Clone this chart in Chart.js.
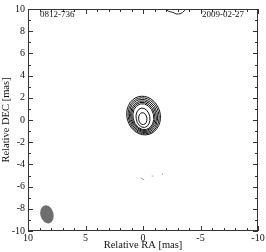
<!DOCTYPE html>
<html>
<head>
<meta charset="utf-8">
<script src="https://cdn.jsdelivr.net/npm/chart.js@4"></script>
<style>
    html, body { margin: 0; padding: 0; background: #fff; }
    #wrap { width: 266px; height: 252px; }
</style>
</head>
<body>
<div id="wrap"><canvas id="mapa" width="266" height="252"></canvas></div>
<script>
// Etiquetas de la imagen
const sourceName = '0812-736';
const epoch = '2009-02-27';

// Contornos del núcleo (mas): centro, semiejes y ángulo
const contourCx = [-0.05, -0.05, -0.04, -0.04, -0.03, -0.03, 0.00, 0.02];
const contourCy = [0.40, 0.38, 0.36, 0.34, 0.32, 0.30, 0.20, 0.12];
const contourRx = [1.45, 1.33, 1.22, 1.11, 1.00, 0.90, 0.60, 0.36];
const contourRy = [1.76, 1.64, 1.52, 1.40, 1.29, 1.18, 0.88, 0.54];
const contourAng = [-16, -16, -15, -15, -14, -13, -10, -6];

// Haz (beam) en la esquina
const beamCx = 8.35, beamCy = -8.5, beamRx = 0.57, beamRy = 0.83, beamAng = -15;

// Contorno parcial en el borde superior
const topContourX = [-1.9, -2.2, -2.6, -2.9, -3.3, -3.6, -3.75];
const topContourY = [10.05, 9.8, 9.7, 9.55, 9.6, 9.85, 10.05];

// Pequeños fragmentos de contorno
const speck1X = [0.2, 0.05, -0.1];
const speck1Y = [-5.2, -5.3, -5.4];
const speck2X = [-0.75, -0.9];
const speck2Y = [-5.05, -5.05];
const speck3X = [-1.7, -1.7];
const speck3Y = [-4.8, -4.95];

// Ticks
const xTicks = [10, 5, 0, -5, -10];
const yTicks = [-10, -8, -6, -4, -2, 0, 2, 4, 6, 8, 10];

const FONT = 'Liberation Serif';

function toPts(xs, ys) {
    return xs.map((x, i) => ({ x: x, y: ys[i] }));
}

function lineSet(xs, ys, color) {
    return {
        data: toPts(xs, ys),
        showLine: true,
        borderColor: color,
        borderWidth: 1,
        pointRadius: 0,
        tension: 0.3,
        fill: false
    };
}

// Plugin: elipses de contorno, beam, marco y ticks hacia dentro
const mapaPlugin = {
    id: 'mapa',
    afterDatasetsDraw(chart) {
        const ctx = chart.ctx;
        const xs = chart.scales.x, ys = chart.scales.y;
        const a = chart.chartArea;
        const ppx = Math.abs(xs.getPixelForValue(1) - xs.getPixelForValue(0));
        const ppy = Math.abs(ys.getPixelForValue(1) - ys.getPixelForValue(0));

        ctx.save();
        ctx.beginPath();
        ctx.rect(a.left, a.top, a.right - a.left, a.bottom - a.top);
        ctx.clip();

        // beam
        ctx.fillStyle = '#6e6e6e';
        ctx.beginPath();
        ctx.ellipse(xs.getPixelForValue(beamCx), ys.getPixelForValue(beamCy),
            beamRx * ppx, beamRy * ppy, beamAng * Math.PI / 180, 0, Math.PI * 2);
        ctx.fill();

        // contornos
        ctx.strokeStyle = '#111';
        ctx.lineWidth = 1;
        contourCx.forEach((cx, i) => {
            ctx.beginPath();
            ctx.ellipse(xs.getPixelForValue(cx), ys.getPixelForValue(contourCy[i]),
                contourRx[i] * ppx, contourRy[i] * ppy, contourAng[i] * Math.PI / 180, 0, Math.PI * 2);
            ctx.stroke();
        });
        ctx.restore();

        // marco
        ctx.save();
        ctx.strokeStyle = '#333';
        ctx.lineWidth = 1;
        ctx.strokeRect(a.left + 0.5, a.top + 0.5, a.right - a.left - 1, a.bottom - a.top - 1);

        // ticks hacia dentro, en todos los lados
        ctx.beginPath();
        for (let v = -10; v <= 10; v++) {
            const px = Math.round(xs.getPixelForValue(v)) + 0.5;
            const lx = (v % 5 === 0) ? 5 : 3;
            ctx.moveTo(px, a.bottom); ctx.lineTo(px, a.bottom - lx);
            ctx.moveTo(px, a.top); ctx.lineTo(px, a.top + lx);
            const py = Math.round(ys.getPixelForValue(v)) + 0.5;
            const ly = (v % 2 === 0) ? 5 : 3;
            ctx.moveTo(a.left, py); ctx.lineTo(a.left + ly, py);
            ctx.moveTo(a.right, py); ctx.lineTo(a.right - ly, py);
        }
        ctx.stroke();

        // textos
        ctx.fillStyle = '#111';
        ctx.font = '9px "' + FONT + '"';
        ctx.textBaseline = 'middle';
        ctx.textAlign = 'left';
        ctx.fillText(sourceName, a.left + 12, 15);
        ctx.textAlign = 'right';
        ctx.fillText(epoch, a.right - 14, 15);
        ctx.restore();
    }
};

new Chart(document.getElementById('mapa'), {
    type: 'scatter',
    data: {
        datasets: [
            lineSet(topContourX, topContourY, '#222'),
            lineSet(speck1X, speck1Y, '#999'),
            lineSet(speck2X, speck2Y, '#aaa'),
            lineSet(speck3X, speck3Y, '#aaa')
        ]
    },
    options: {
        responsive: false,
        animation: false,
        devicePixelRatio: 1,
        layout: { padding: { top: 1, right: 8, bottom: 0, left: 0 } },
        plugins: {
            legend: { display: false },
            tooltip: { enabled: false }
        },
        scales: {
            x: {
                type: 'linear',
                min: -10,
                max: 10,
                reverse: true,
                afterBuildTicks: s => { s.ticks = xTicks.map(v => ({ value: v })); },
                afterFit: s => { s.height = 21; },
                grid: { display: false, drawTicks: false },
                border: { display: false },
                ticks: {
                    color: '#111',
                    padding: 1,
                    maxRotation: 0,
                    autoSkip: false,
                    font: { family: FONT, size: 10 }
                },
                title: {
                    display: true,
                    text: 'Relative RA [mas]',
                    color: '#111',
                    padding: { top: 0, bottom: 0 },
                    font: { family: FONT, size: 10.5 }
                }
            },
            y: {
                type: 'linear',
                min: -10,
                max: 10,
                afterBuildTicks: s => { s.ticks = yTicks.map(v => ({ value: v })); },
                afterFit: s => { s.width = 28; },
                grid: { display: false, drawTicks: false },
                border: { display: false },
                ticks: {
                    color: '#111',
                    padding: 3,
                    autoSkip: false,
                    font: { family: FONT, size: 10 }
                },
                title: {
                    display: true,
                    text: 'Relative DEC [mas]',
                    color: '#111',
                    padding: 0,
                    font: { family: FONT, size: 10.5 }
                }
            }
        }
    },
    plugins: [mapaPlugin]
});
</script>
</body>
</html>
